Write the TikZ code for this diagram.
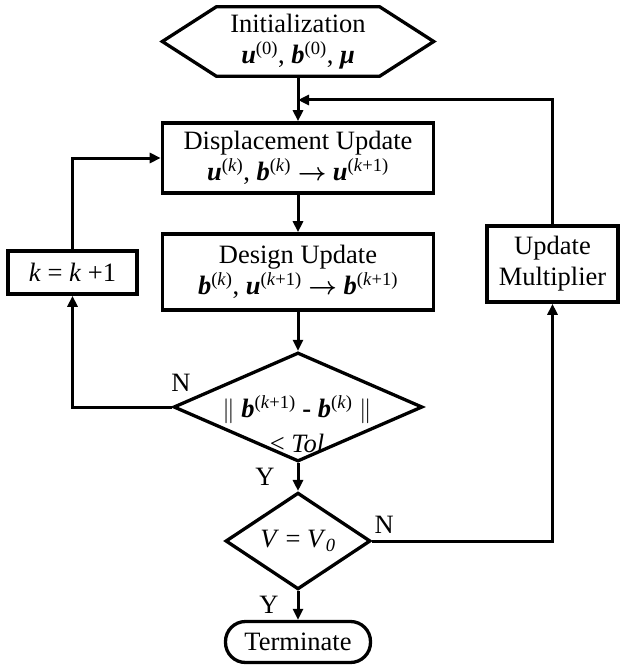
\documentclass[tikz,border=0pt]{standalone}
\usepackage{fontspec}
\setmainfont{Liberation Serif}
\usetikzlibrary{arrows.meta,shapes.geometric}
\newcommand{\bvar}[1]{\textbf{\textit{#1}}}
\newcommand{\supk}{\textsuperscript{(\textit{k})}}
\newcommand{\supkk}{\textsuperscript{(\textit{k}+1)}}
\newcommand{\yields}{{\boldmath$\rightarrow$}}
\tikzset{
	box/.style={draw,line width=3.6pt,minimum width=271pt,minimum height=70pt,align=center,inner sep=0pt},
	hexbox/.style={minimum width=163pt,minimum height=69pt,align=center,inner sep=0pt},
	dia/.style={draw,diamond,line width=3.3pt,inner sep=0pt},
	term/.style={draw,line width=3.3pt,rounded corners=20pt,minimum width=145pt,minimum height=41pt,inner sep=0pt},
	link/.style={line width=3pt},
}
\begin{document}
\begin{tikzpicture}[x=1pt,y=-1pt,font=\fontsize{26.5}{31}\selectfont,>={Triangle[length=11pt,width=10pt]}]
	\useasboundingbox (0,0) rectangle (619,666);

	\node[hexbox] (init) at (298,41.5) {Initialization\\\bvar{u}\textsuperscript{(0)}, \bvar{b}\textsuperscript{(0)}, \bvar{μ}};
	\draw[line width=3.3pt] (init.north west) -- (init.north east) -- ([xshift=54pt]init.east) -- (init.south east)
		-- (init.south west) -- ([xshift=-54pt]init.west) -- cycle;

	\node[box] (disp) at (298,158) {Displacement Update\\\bvar{u}\supk, \bvar{b}\supk\ \yields\ \bvar{u}\supkk};
	\node[box,minimum height=76pt] (design) at (298,272) {Design Update\\\bvar{b}\supk, \bvar{u}\supkk\ \yields\ \bvar{b}\supkk};
	\node[box,minimum width=129pt,minimum height=43pt] (incr) at (72.5,272.5) {\textit{k} = \textit{k} +1};
	\node[box,minimum width=131pt,minimum height=76pt] (mult) at (552.5,264) {Update\\Multiplier};

	\node[dia,minimum width=249pt,minimum height=109pt] (check) at (298,407) {};
	\node[align=center,inner sep=0pt] (checktxt) at (297,424) {$\|$ \bvar{b}\supkk\ \textbf{-} \bvar{b}\supk\ $\|$\\[4pt]< \textit{Tol}};
	\node[dia,minimum width=145pt,minimum height=75pt] (vol) at (298,541) {\textit{V} = \textit{V}\textsubscript{\textit{0}}};
	\node[term] (stop) at (298,642) {Terminate};

	\coordinate (join) at (298,100);
	\draw[link,->] (init.south) -- (disp.north);
	\draw[link,->] (mult.north) |- (join);
	\draw[link,->] (disp.south) -- (design.north);
	\draw[link,->] (design.south) -- (check.north);
	\draw[link,->] (check.west) -| (incr.south);
	\draw[link,->] (incr.north) |- (disp.west);
	\draw[link,->] (check.south) -- (vol.north);
	\draw[link,->] (vol.east) -| (mult.south);
	\draw[link,->] (vol.south) -- (stop.north);

	\node (n1) at ([xshift=9pt,yshift=24pt]check.west) {N};
	\node (y1) at ([xshift=-33pt,yshift=-14pt]check.south) {Y};
	\node (n2) at ([xshift=12pt,yshift=16pt]vol.east) {N};
	\node (y2) at ([xshift=-29pt,yshift=-14pt]vol.south) {Y};
\end{tikzpicture}
\end{document}
